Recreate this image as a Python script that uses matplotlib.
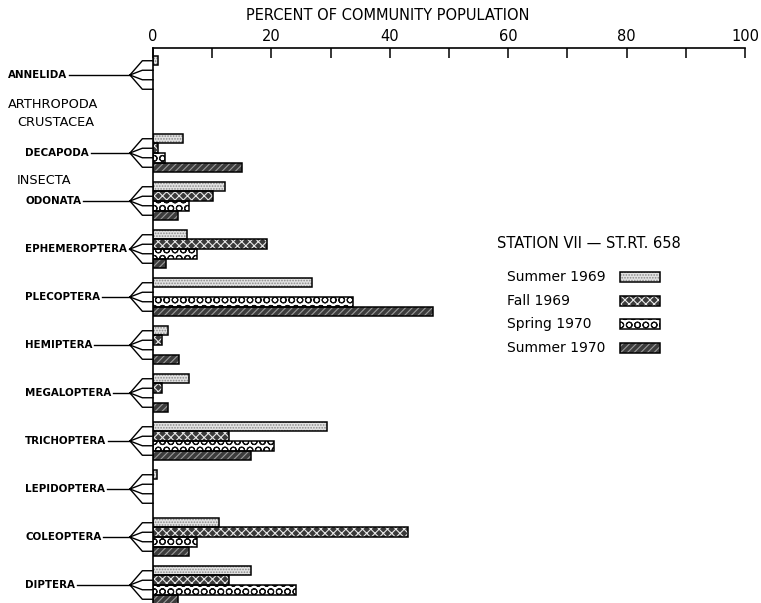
import matplotlib
matplotlib.use("Agg")
import matplotlib.pyplot as plt
import matplotlib.transforms as mtransforms
from matplotlib.patches import Rectangle
import numpy as np

# taxa, top to bottom
taxa = ["ANNELIDA", "DECAPODA", "ODONATA", "EPHEMEROPTERA", "PLECOPTERA",
        "HEMIPTERA", "MEGALOPTERA", "TRICHOPTERA", "LEPIDOPTERA",
        "COLEOPTERA", "DIPTERA"]

# percent of community population per sampling season
summer69 = [0.8, 5.1, 12.2, 5.8, 26.9, 2.5, 6.1, 29.4, 0.7, 11.2, 16.5]
fall69 = [0, 0.9, 10.1, 19.2, 0, 1.5, 1.6, 12.8, 0, 43.0, 12.8]
spring70 = [0, 2.0, 6.1, 7.5, 33.7, 0, 0, 20.5, 0, 7.4, 24.1]
summer70 = [0, 15.1, 4.3, 2.2, 47.3, 4.4, 2.5, 16.5, 0, 6.0, 4.3]

seasons = ["Summer 1969", "Fall 1969", "Spring 1970", "Summer 1970"]
station = "STATION VII \u2014 ST.RT. 658"

# look of each series: face colour, hatch, hatch colour
styles = [
    ("#e2e2e2", "......", "#8a8a8a"),
    ("#3a3a3a", "xxxx", "#e8e8e8"),
    ("#ffffff", "OO", "#111111"),
    ("#3c3c3c", "/////", "#9a9a9a"),
]

plt.rcParams["hatch.linewidth"] = 0.8

fig = plt.figure(figsize=(7.61, 6.03), dpi=100)
ax = fig.add_axes([153 / 761, 0, 592 / 761, 1 - 48 / 603])

# group centres: extra gap after Annelida for the Arthropoda headings
centres = np.array([0] + [i + 0.625 for i in range(1, len(taxa))])
h = 0.198

series = [summer69, fall69, spring70, summer70]
for k, vals in enumerate(series):
    face, hatch, hcol = styles[k]
    y = centres + (k - 1.5) * h
    vals = np.array(vals, dtype=float)
    show = vals > 0
    ax.barh(y[show], vals[show], height=h, color=face, hatch=hatch,
            edgecolor=hcol, linewidth=0, zorder=2)
    ax.barh(y[show], vals[show], height=h, fill=False,
            edgecolor="black", linewidth=1.1, zorder=3)

ax.set_xlim(0, 100)
ax.set_ylim(11.0, -0.5625)

for s in ["right", "bottom"]:
    ax.spines[s].set_visible(False)
for s in ["top", "left"]:
    ax.spines[s].set_linewidth(1.2)

ax.xaxis.tick_top()
ax.set_xticks(np.arange(0, 101, 20))
ax.set_xticks(np.arange(10, 100, 20), minor=True)
ax.tick_params(axis="x", which="both", direction="in", length=7.5,
               width=1.1, labelsize=10.5, pad=3)
ax.set_yticks([])

fig.text(388 / 761, 1 - 16 / 603, "PERCENT OF COMMUNITY POPULATION",
         ha="center", va="center", fontsize=10.5)

# left-hand labels and fan connectors
trans = mtransforms.blended_transform_factory(fig.transFigure, ax.transData)
fig.canvas.draw()
renderer = fig.canvas.get_renderer()

x_conv = -3.9
x_elbow = -1.8
for i, name in enumerate(taxa):
    yc = centres[i]
    xl = 8 / 761 if i == 0 else 25 / 761
    t = ax.text(xl, yc, name, transform=trans, ha="left", va="center",
                fontsize=7.4, fontweight="bold")
    bb = t.get_window_extent(renderer)
    x_end = ax.transData.inverted().transform((bb.x1 + 2, 0))[0]
    ax.plot([x_end, x_conv], [yc, yc], color="black", lw=1.0,
            clip_on=False, zorder=4)
    for k in range(4):
        yb = yc + (k - 1.5) * h
        ax.plot([x_conv, x_elbow, 0], [yc, yb, yb], color="black",
                lw=1.0, clip_on=False, zorder=4)

for txt, px, py in [("ARTHROPODA", 8, 104), ("CRUSTACEA", 17, 122),
                    ("INSECTA", 17, 180)]:
    ax.text(px / 761, (py - 75) / 48, txt, transform=trans, ha="left",
            va="center", fontsize=9.3)

# legend drawn by hand: text on the left, swatch on the right
fig.text(497 / 761, 1 - 243 / 603, station, ha="left", va="center",
         fontsize=10.5)
for k, lab in enumerate(seasons):
    py = 277 + k * 23.7
    fig.text(507 / 761, 1 - py / 603, lab, ha="left", va="center",
             fontsize=10)
    face, hatch, hcol = styles[k]
    fig.patches.append(Rectangle((620 / 761, 1 - (py + 5) / 603), 40 / 761,
                                 10 / 603, transform=fig.transFigure,
                                 facecolor=face, hatch=hatch, edgecolor=hcol,
                                 linewidth=0))
    fig.patches.append(Rectangle((620 / 761, 1 - (py + 5) / 603), 40 / 761,
                                 10 / 603, transform=fig.transFigure,
                                 fill=False, edgecolor="black", linewidth=1.1))

fig.savefig("out.png", dpi=100)
